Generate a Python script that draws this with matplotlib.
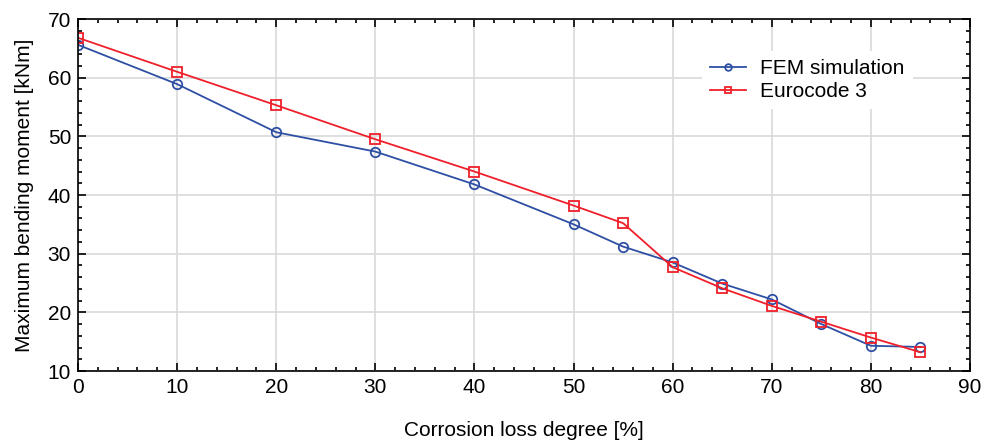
import numpy as np
import matplotlib.pyplot as plt
from matplotlib.ticker import MultipleLocator

plt.rcParams['font.family'] = ['Liberation Sans', 'DejaVu Sans']

# data
corrosion = [0, 10, 20, 30, 40, 50, 55, 60, 65, 70, 75, 80, 85]
fem = [65.6, 58.9, 50.7, 47.4, 41.8, 35.0, 31.2, 28.5, 24.9, 22.2, 18.0, 14.3, 14.1]
eurocode = [66.8, 61.0, 55.3, 49.5, 44.0, 38.2, 35.2, 27.7, 24.1, 21.1, 18.4, 15.7, 13.2]

fig = plt.figure(figsize=(9.91, 4.48), dpi=100)
ax = fig.add_axes([78 / 991, 1 - 371 / 448, (970 - 78) / 991, (371 - 19) / 448])

ax.plot(corrosion, fem, color='#2e4fa3', lw=1.3, marker='o', ms=6.8,
        mfc='none', mec='#2e4fa3', mew=1.3, label='FEM simulation')
ax.plot(corrosion, eurocode, color='#f0202a', lw=1.3, marker='s', ms=7,
        mfc='none', mec='#f0202a', mew=1.3, label='Eurocode 3')

ax.set_xlim(0, 90)
ax.set_ylim(10, 70)
ax.xaxis.set_major_locator(MultipleLocator(10))
ax.xaxis.set_minor_locator(MultipleLocator(2))
ax.yaxis.set_major_locator(MultipleLocator(10))
ax.yaxis.set_minor_locator(MultipleLocator(2))
ax.tick_params(which='both', direction='in', top=True, right=True, labelsize=15,
               width=1.2, color='black')
ax.tick_params(which='major', length=6)
ax.tick_params(which='minor', length=3)
ax.tick_params(axis='x', pad=5)
ax.tick_params(axis='y', pad=5)
ax.grid(True, which='major', color='#d9d9d9', lw=1.2)
ax.set_axisbelow(True)
for s in ax.spines.values():
    s.set_linewidth(1.2)

ax.set_xlabel('Corrosion loss degree [%]', fontsize=15, labelpad=17)
ax.set_ylabel('Maximum bending moment [kNm]', fontsize=15, labelpad=10)

leg = ax.legend(loc='upper right', bbox_to_anchor=(0.948, 0.94), frameon=True,
                fontsize=15, handlelength=1.7, markerscale=0.7,
                borderpad=0.4, labelspacing=0.2, handletextpad=0.7)
leg.get_frame().set_edgecolor('none')
leg.get_frame().set_facecolor('white')
leg.get_frame().set_alpha(1)

fig.savefig('out.png', dpi=100)
